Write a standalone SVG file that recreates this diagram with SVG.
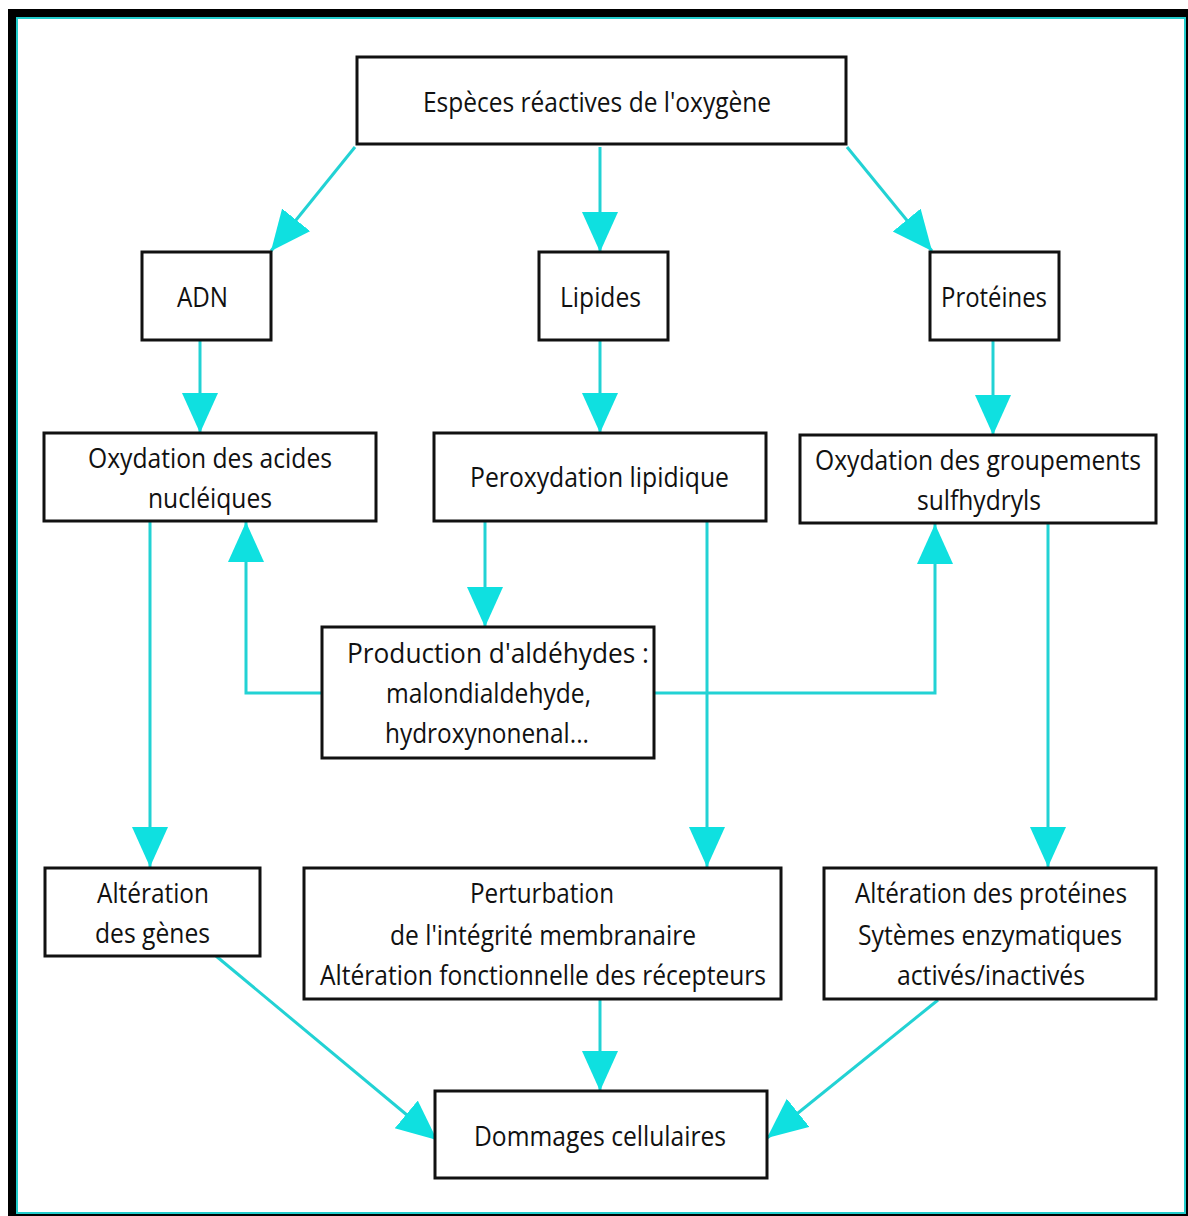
<svg xmlns="http://www.w3.org/2000/svg" width="1188" height="1216" viewBox="0 0 1188 1216">
<defs>
<style>
.box{fill:#fff;stroke:#111;stroke-width:3}
.t{font-family:"Open Sans","Noto Sans","Liberation Sans",sans-serif;font-size:28px;fill:#111;text-anchor:start}
.c{fill:none;stroke:#22d2d4;stroke-width:3}
</style>
<marker id="ah" markerUnits="userSpaceOnUse" markerWidth="42" markerHeight="38" refX="40" refY="18" orient="auto" viewBox="0 0 42 38">
<path d="M0,0 L40,18 L0,36 z" fill="#0fe0e0"/>
</marker>
</defs>
<rect x="0" y="0" width="1188" height="1216" fill="#fff"/>
<rect x="8" y="9" width="1180" height="1207" fill="#000"/>
<rect x="17" y="18" width="1168" height="1195" fill="#fff" stroke="#22cccc" stroke-width="2"/>

<g id="connectors">
<path class="c" d="M355,147 L271,251" marker-end="url(#ah)"/>
<path class="c" d="M600,147 L600,252" marker-end="url(#ah)"/>
<path class="c" d="M847,147 L932,251" marker-end="url(#ah)"/>
<path class="c" d="M200,341 L200,433" marker-end="url(#ah)"/>
<path class="c" d="M600,341 L600,433" marker-end="url(#ah)"/>
<path class="c" d="M993,341 L993,435" marker-end="url(#ah)"/>
<path class="c" d="M150,522 L150,867" marker-end="url(#ah)"/>
<path class="c" d="M485,522 L485,627" marker-end="url(#ah)"/>
<path class="c" d="M707,522 L707,867" marker-end="url(#ah)"/>
<path class="c" d="M321,693 L246,693 L246,522" marker-end="url(#ah)"/>
<path class="c" d="M655,693 L935,693 L935,524" marker-end="url(#ah)"/>
<path class="c" d="M1048,524 L1048,867" marker-end="url(#ah)"/>
<path class="c" d="M216,956 L437,1140" marker-end="url(#ah)"/>
<path class="c" d="M600,1000 L600,1091" marker-end="url(#ah)"/>
<path class="c" d="M938,1000 L767,1138" marker-end="url(#ah)"/>
</g>

<g id="n-ros"><rect class="box" x="357" y="57" width="489" height="87"/>
<text class="t" x="423" y="112" textLength="348" lengthAdjust="spacingAndGlyphs">Espèces réactives de l'oxygène</text></g>

<g id="n-adn"><rect class="box" x="142" y="252" width="129" height="88"/>
<text class="t" x="177" y="307" textLength="51" lengthAdjust="spacingAndGlyphs">ADN</text></g>

<g id="n-lipides"><rect class="box" x="539" y="252" width="129" height="88"/>
<text class="t" x="560" y="307" textLength="81" lengthAdjust="spacingAndGlyphs">Lipides</text></g>

<g id="n-proteines"><rect class="box" x="930" y="252" width="129" height="88"/>
<text class="t" x="941" y="307" textLength="106" lengthAdjust="spacingAndGlyphs">Protéines</text></g>

<g id="n-oxy-acides"><rect class="box" x="44" y="433" width="332" height="88"/>
<text class="t" x="88" y="468" textLength="244" lengthAdjust="spacingAndGlyphs">Oxydation des acides</text>
<text class="t" x="148" y="508" textLength="124" lengthAdjust="spacingAndGlyphs">nucléiques</text></g>

<g id="n-peroxydation"><rect class="box" x="434" y="433" width="332" height="88"/>
<text class="t" x="470" y="487" textLength="259" lengthAdjust="spacingAndGlyphs">Peroxydation lipidique</text></g>

<g id="n-oxy-sulf"><rect class="box" x="800" y="435" width="356" height="88"/>
<text class="t" x="815" y="470" textLength="326" lengthAdjust="spacingAndGlyphs">Oxydation des groupements</text>
<text class="t" x="917" y="510" textLength="124" lengthAdjust="spacingAndGlyphs">sulfhydryls</text></g>

<g id="n-aldehydes"><rect class="box" x="322" y="627" width="332" height="131"/>
<text class="t" x="347" y="663" textLength="302" lengthAdjust="spacingAndGlyphs">Production d'aldéhydes :</text>
<text class="t" x="386" y="703" textLength="205" lengthAdjust="spacingAndGlyphs">malondialdehyde,</text>
<text class="t" x="385" y="743" textLength="204" lengthAdjust="spacingAndGlyphs">hydroxynonenal...</text></g>

<g id="n-alt-genes"><rect class="box" x="45" y="868" width="215" height="88"/>
<text class="t" x="97" y="903" textLength="112" lengthAdjust="spacingAndGlyphs">Altération</text>
<text class="t" x="95" y="943" textLength="115" lengthAdjust="spacingAndGlyphs">des gènes</text></g>

<g id="n-perturbation"><rect class="box" x="304" y="868" width="477" height="131"/>
<text class="t" x="470" y="903" textLength="144" lengthAdjust="spacingAndGlyphs">Perturbation</text>
<text class="t" x="390" y="945" textLength="306" lengthAdjust="spacingAndGlyphs">de l'intégrité membranaire</text>
<text class="t" x="320" y="985" textLength="446" lengthAdjust="spacingAndGlyphs">Altération fonctionnelle des récepteurs</text></g>

<g id="n-alt-proteines"><rect class="box" x="824" y="868" width="332" height="131"/>
<text class="t" x="855" y="903" textLength="272" lengthAdjust="spacingAndGlyphs">Altération des protéines</text>
<text class="t" x="858" y="945" textLength="264" lengthAdjust="spacingAndGlyphs">Sytèmes enzymatiques</text>
<text class="t" x="897" y="985" textLength="188" lengthAdjust="spacingAndGlyphs">activés/inactivés</text></g>

<g id="n-dommages"><rect class="box" x="435" y="1091" width="332" height="87"/>
<text class="t" x="474" y="1146" textLength="252" lengthAdjust="spacingAndGlyphs">Dommages cellulaires</text></g>
</svg>
